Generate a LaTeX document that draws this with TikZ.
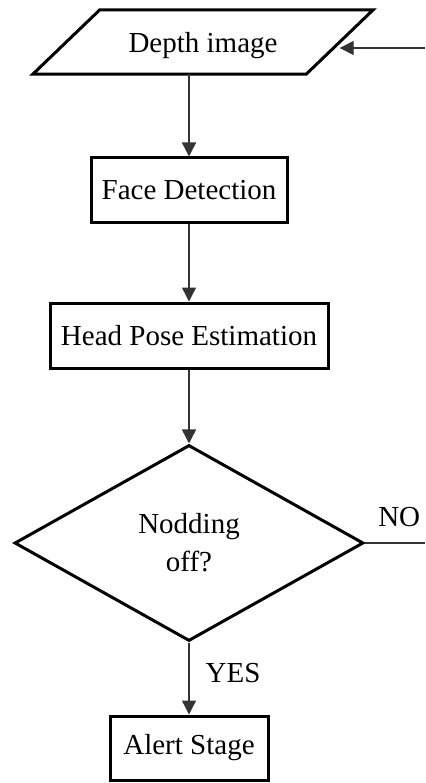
\documentclass[tikz,border=0pt]{standalone}
\usepackage{fontspec}
\setmainfont{Liberation Serif}
\usetikzlibrary{shapes.geometric,arrows.meta}
\begin{document}
\begin{tikzpicture}[x=1pt,y=-1pt,
  font=\fontsize{29}{38}\selectfont,
  box/.style={draw=black, line width=3pt, minimum height=65pt, inner sep=0pt},
  flow/.style={draw=black!80, line width=1.4pt},
  arr/.style={flow, -{Triangle[length=14pt,width=14pt]}},
  lbl/.style={inner sep=0pt}]
\useasboundingbox (0,0) rectangle (425,783);

% input parallelogram
\node[inner sep=0pt, minimum width=273pt, minimum height=64pt, text depth=0pt] (depth) at (203,42) {Depth image};
\draw[box] ([xshift=33.5pt]depth.north west) -- ([xshift=33.5pt]depth.north east)
  -- ([xshift=-33.5pt]depth.south east) -- ([xshift=-33.5pt]depth.south west) -- cycle;

% process steps
\node[box, minimum width=196pt] (face) at (189,190.5) {Face Detection};
\node[box, minimum width=278pt] (head) at (189,335.5) {Head Pose Estimation};
\node[draw=black, diamond, line width=3pt, minimum width=349pt, minimum height=196pt,
  inner sep=0pt, align=center] (dec) at (189,543) {Nodding\\off?};
\node[box, minimum width=158pt, minimum height=64pt] (alert) at (189,748) {Alert Stage};

% loose ends of the feedback lines
\coordinate (feed) at (425,48);
\coordinate (noend) at (425,543);

% connectors
\draw[arr] (face.north |- depth.south) -- (face.north);
\draw[arr] (face) -- (head);
\draw[arr] (head) -- (dec);
\draw[arr] (dec) -- node[lbl, pos=0.42, right=16pt] {YES} (alert);
\draw[flow] (dec.east) -- node[lbl, pos=0.57, above=16pt] {NO} (noend);
\draw[arr] (feed) -- (feed -| depth.east);
\end{tikzpicture}
\end{document}
